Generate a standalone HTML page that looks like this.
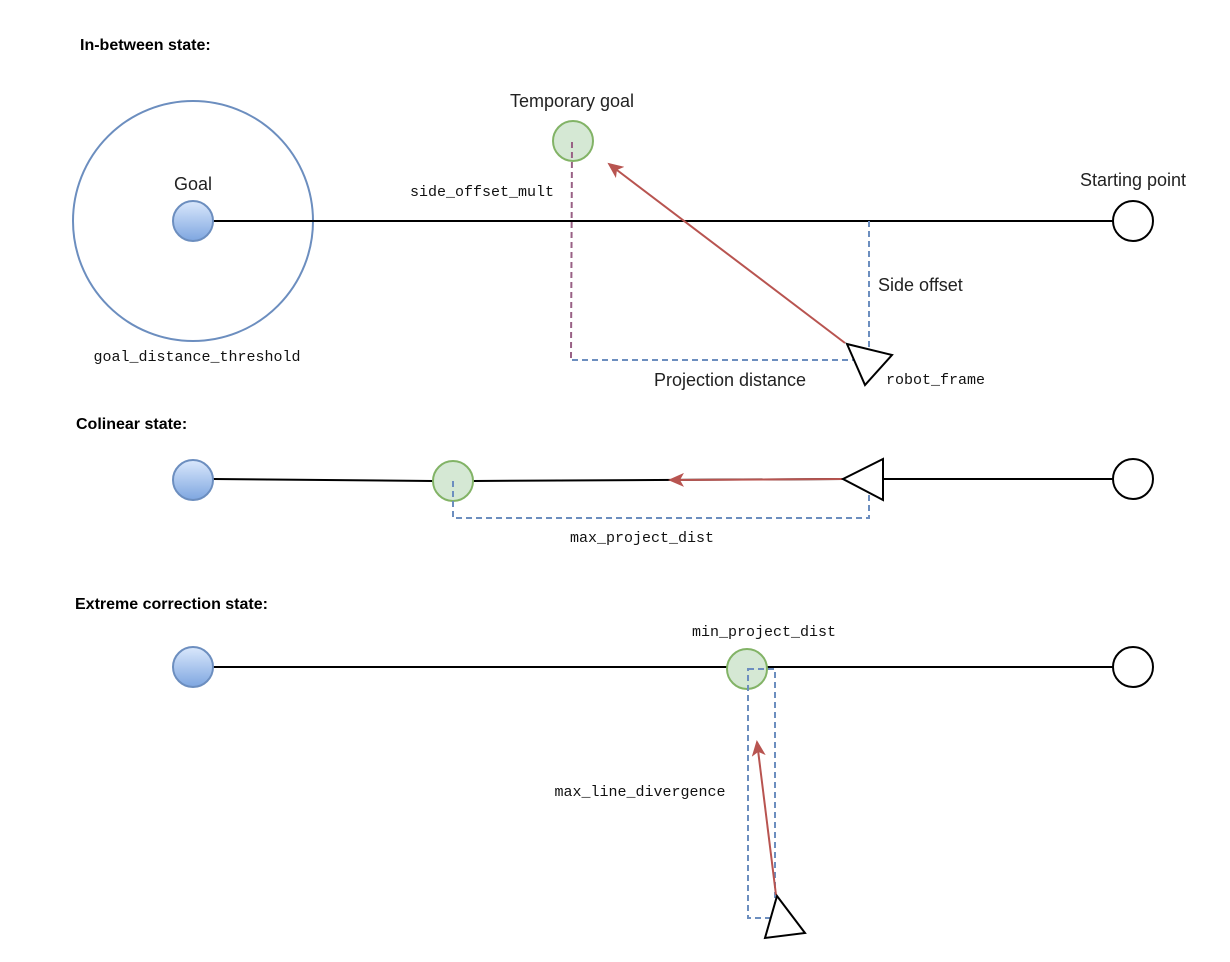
<!DOCTYPE html>
<html><head><style>body{margin:0;background:#fff}</style></head><body>
<svg width="1230" height="962" xmlns="http://www.w3.org/2000/svg" style="display:block">
<defs>
<linearGradient id="bg" x1="0" y1="0" x2="0" y2="1"><stop offset="0" stop-color="#dae8fc"/><stop offset="1" stop-color="#7ea6e0"/></linearGradient>
<marker id="ar" markerWidth="10" markerHeight="10" refX="8" refY="5" orient="auto" markerUnits="userSpaceOnUse" viewBox="0 0 10 10"><path d="M0,0 L10,5 L0,10 L3,5 Z" fill="#b85450" transform="scale(1)"/></marker>
<marker id="ar2" markerWidth="16" markerHeight="14" refX="14" refY="7" orient="auto" markerUnits="userSpaceOnUse"><path d="M0,0 L16,7 L0,14 L4,7 Z" fill="#b85450"/></marker>
</defs>
<g font-family="Liberation Sans, sans-serif">
<text x="80" y="50" font-size="16" font-weight="bold">In-between state:</text>
<text x="76" y="429" font-size="16" font-weight="bold">Colinear state:</text>
<text x="75" y="609" font-size="16" font-weight="bold">Extreme correction state:</text>
</g>
<!-- Row 1 -->
<circle cx="193" cy="221" r="120" fill="none" stroke="#6c8ebf" stroke-width="2"/>
<line x1="213" y1="221" x2="1113" y2="221" stroke="#000" stroke-width="2"/>
<circle cx="193" cy="221" r="20" fill="url(#bg)" stroke="#6c8ebf" stroke-width="2"/>
<circle cx="1133" cy="221" r="20" fill="#fff" stroke="#000" stroke-width="2"/>
<circle cx="573" cy="141" r="20" fill="#d5e8d4" stroke="#82b366" stroke-width="2"/>
<line x1="572" y1="142" x2="571" y2="358" stroke="#996185" stroke-width="2" stroke-dasharray="6,4"/>
<polyline points="572,360 869,360 869,221" fill="none" stroke="#6c8ebf" stroke-width="2" stroke-dasharray="6,4"/>
<line x1="845" y1="343" x2="609" y2="164" stroke="#b85450" stroke-width="2" marker-end="url(#ar2)"/>
<polygon points="847,344 892,355 865,385" fill="#fff" stroke="#000" stroke-width="2"/>
<g font-family="Liberation Sans, sans-serif" font-size="18" fill="#222">
<text x="572" y="107" text-anchor="middle">Temporary goal</text>
<text x="193" y="190" text-anchor="middle">Goal</text>
<text x="1133" y="186" text-anchor="middle">Starting point</text>
<text x="878" y="291">Side offset</text>
<text x="730" y="386" text-anchor="middle">Projection distance</text>
</g>
<g font-family="Liberation Mono, monospace" font-size="15" fill="#111">
<text x="482" y="196" text-anchor="middle">side_offset_mult</text>
<text x="197" y="361" text-anchor="middle">goal_distance_threshold</text>
<text x="886" y="384">robot_frame</text>
<text x="642" y="542" text-anchor="middle">max_project_dist</text>
<text x="764" y="636" text-anchor="middle">min_project_dist</text>
<text x="640" y="796" text-anchor="middle">max_line_divergence</text>
</g>
<!-- Row 2 -->
<polyline points="213,479 433,481 473,481 843,479" fill="none" stroke="#000" stroke-width="2"/>
<line x1="883" y1="479" x2="1113" y2="479" stroke="#000" stroke-width="2"/>
<circle cx="193" cy="480" r="20" fill="url(#bg)" stroke="#6c8ebf" stroke-width="2"/>
<circle cx="1133" cy="479" r="20" fill="#fff" stroke="#000" stroke-width="2"/>
<circle cx="453" cy="481" r="20" fill="#d5e8d4" stroke="#82b366" stroke-width="2"/>
<polyline points="453,481 453,518 869,518 869,479" fill="none" stroke="#6c8ebf" stroke-width="2" stroke-dasharray="6,4"/>
<line x1="843" y1="479" x2="670" y2="480" stroke="#b85450" stroke-width="2" marker-end="url(#ar2)"/>
<polygon points="843,479 883,459 883,500" fill="#fff" stroke="#000" stroke-width="2"/>
<!-- Row 3 -->
<line x1="213" y1="667" x2="1113" y2="667" stroke="#000" stroke-width="2"/>
<circle cx="193" cy="667" r="20" fill="url(#bg)" stroke="#6c8ebf" stroke-width="2"/>
<circle cx="1133" cy="667" r="20" fill="#fff" stroke="#000" stroke-width="2"/>
<circle cx="747" cy="669" r="20" fill="#d5e8d4" stroke="#82b366" stroke-width="2"/>
<rect x="748" y="669" width="27" height="249" fill="none" stroke="#6c8ebf" stroke-width="2" stroke-dasharray="6,4"/>
<line x1="776" y1="895" x2="757" y2="742" stroke="#b85450" stroke-width="2" marker-end="url(#ar2)"/>
<polygon points="777,896 805,933 765,938" fill="#fff" stroke="#000" stroke-width="2"/>
</svg>
</body></html>
